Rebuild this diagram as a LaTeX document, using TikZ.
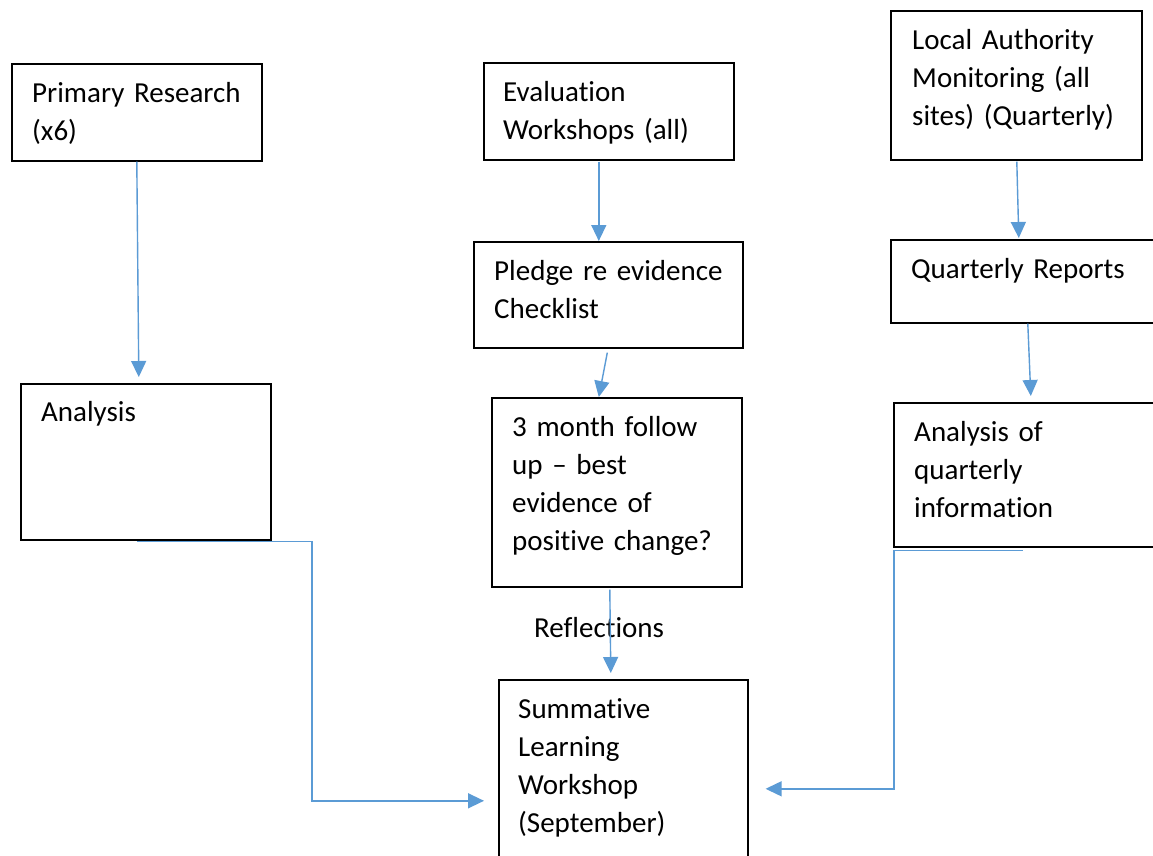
\documentclass[tikz,border=0pt]{standalone}
\usepackage{fontspec}
\setmainfont[Ligatures={NoCommon}]{Carlito}
\usetikzlibrary{arrows.meta,calc}
\definecolor{lineblue}{HTML}{5B9BD5}
\newcommand\nolig{\kern0pt{}}
\tikzset{
  box/.style={draw=black, line width=1.6pt, rectangle, anchor=north west, inner sep=0pt},
  txt/.style={font=\fontsize{29}{38.3}\selectfont, anchor=base west, align=left, text width=330pt, inner sep=0pt},
  arr/.style={draw=lineblue, line width=1.4pt, -{Triangle[length=16pt,width=15pt]}},
}
\begin{document}
\begin{tikzpicture}[x=1pt,y=-1pt]
\clip (0,0) rectangle (1153,855);
\fill[white] (0,0) rectangle (1153,855);
% boxes
\node[box, minimum width=250pt, minimum height=97pt] (prim) at (11,63) {};
\node[box, minimum width=250pt, minimum height=97pt] (eval) at (483,62) {};
\node[box, minimum width=251pt, minimum height=149pt] (la) at (890,10) {};
\node[box, minimum width=269pt, minimum height=106pt] (pledge) at (473,241) {};
\node[box, minimum width=280pt, minimum height=83pt] (qr) at (890,239) {};
\node[box, minimum width=250pt, minimum height=156pt] (ana) at (20,383) {};
\node[box, minimum width=250pt, minimum height=189pt] (three) at (491,397) {};
\node[box, minimum width=280pt, minimum height=144pt] (aq) at (893,402) {};
\node[box, minimum width=249pt, minimum height=200pt] (sum) at (498,679) {};
% texts
\node[txt] (tprim) at (32,102) {Primary Research\\(x6)};
\node[txt] (teval) at (503,101) {Evaluation\\Workshops (all)};
\node[txt] (tla) at (912,49) {Local Authority\\Monitoring (all\\sites) (Quarterly)};
\node[txt] (tpledge) at (494,280) {Pledge re evidence\\Checklist};
\node[txt] (tqr) at (911,278) {Quarterly Reports};
\node[txt] (tana) at (41,421) {Analysis};
\node[txt] (tthree) at (512,436) {3 month follow\\up – best\\evidence of\\posit\nolig ive change?};
\node[txt] (taq) at (914,441) {Analysis of\\quarterly\\informat\nolig ion};
\node[txt] (tsum) at (518,718) {Summat\nolig ive\\Learning\\Workshop\\(September)};
\node[txt] (refl) at (534,637) {Reflect\nolig ions};
% connectors
\draw[arr] (prim.south) -- ($(ana.north)+(-7,-6)$);
\draw[arr] ($(eval.south)+(-10,1)$) -- ($(pledge.north)+(-9.5,0)$);
\draw[arr] ($(pledge.south)+(-1,4)$) -- ($(three.north)+(-18,0)$);
\draw[arr] ($(la.south)+(0.5,1)$) -- ($(qr.north)+(-12,-1)$);
\draw[arr] ($(qr.south)+(-3,0)$) -- ($(aq.north)+(-3,-6)$);
\draw[arr] ($(three.south)+(-7,2)$) -- ($(sum.north)+(-12.5,-6)$);
\draw[arr] ($(ana.south)+(-9,1)$) -- ++(175,0) |- ($(sum.west)+(-14,21)$);
\draw[arr] ($(aq.south)+(-11,3)$) -- ++(-129,0) |- ($(sum.east)+(17,9)$);
\end{tikzpicture}
\end{document}
